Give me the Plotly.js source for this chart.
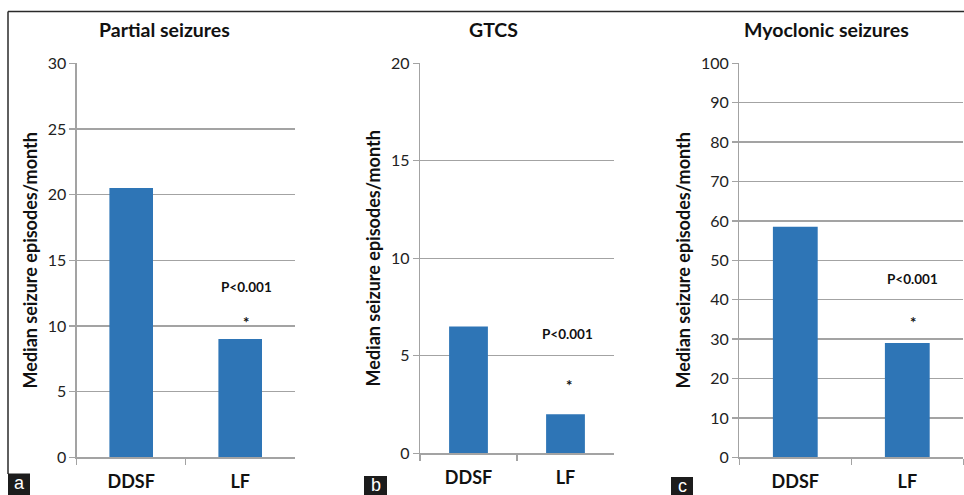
<!DOCTYPE html>
<html>
<head>
<meta charset="utf-8">
<script src="https://cdn.plot.ly/plotly-3.0.1.min.js"></script>
<style>
html,body{margin:0;padding:0;background:#fff;}
#chart{width:964px;height:495px;}
</style>
</head>
<body>
<div id="chart"></div>
<script>
// ---- data ----
const categories = ['DDSF', 'LF'];
const partialValues = [20.5, 9];
const gtcsValues = [6.5, 2];
const myoclonicValues = [58.5, 29];
const panelTitles = ['Partial seizures', 'GTCS', 'Myoclonic seizures'];
const panelLetters = ['a', 'b', 'c'];
const yAxisTitle = 'Median seizure episodes/month';
const pText = 'P&lt;0.001';
const yRanges = [[0, 30], [0, 20], [0, 100]];
const yDticks = [5, 5, 10];

// ---- layout helpers ----
const W = 964, H = 495;
const px = v => v / W;
const py = v => 1 - v / H;
const FONT = 'Lato, "Open Sans", Arial, sans-serif';
const gray = '#a3a3a3';
const barColor = '#2e75b6';

const panels = [
  {xd: [76.7, 294.7], yd: [63.3, 457.3]},
  {xd: [420, 614], yd: [63.3, 453.3]},
  {xd: [739.3, 963.3], yd: [63.3, 457.3]}
];

const seriesList = [partialValues, gtcsValues, myoclonicValues];
const data = seriesList.map((vals, i) => ({
  type: 'bar',
  x: categories,
  y: vals,
  xaxis: i === 0 ? 'x' : 'x' + (i + 1),
  yaxis: i === 0 ? 'y' : 'y' + (i + 1),
  marker: {color: barColor},
  hoverinfo: 'x+y',
  showlegend: false
}));

const layout = {
  width: W, height: H,
  margin: {l: 0, r: 0, t: 0, b: 0},
  paper_bgcolor: '#fff',
  plot_bgcolor: 'rgba(0,0,0,0)',
  bargap: 0.6,
  showlegend: false,
  font: {family: FONT, color: '#222'},
  annotations: [],
  shapes: []
};

panels.forEach((p, i) => {
  const sx = i === 0 ? '' : String(i + 1);
  layout['xaxis' + sx] = {
    domain: [px(p.xd[0]), px(p.xd[1])],
    anchor: 'y' + sx,
    type: 'category',
    range: [-0.5, 1.5],
    showline: true, linecolor: gray, linewidth: 1.3,
    ticks: 'outside', tickson: 'boundaries', ticklen: 6, tickcolor: gray, tickwidth: 1.3,
    showgrid: false, zeroline: false,
    ticklabelstandoff: 8,
    tickfont: {family: FONT, size: 18, color: '#111', weight: 'bold'},
    fixedrange: true
  };
  layout['yaxis' + sx] = {
    domain: [py(p.yd[1]), py(p.yd[0])],
    anchor: 'x' + sx,
    range: yRanges[i],
    dtick: yDticks[i],
    tick0: 0,
    showgrid: true, gridcolor: gray, gridwidth: 1.3,
    showline: true, linecolor: gray, linewidth: 1.3,
    ticks: 'outside', ticklen: 6, tickcolor: gray, tickwidth: 1.3,
    zeroline: false,
    tickfont: {family: FONT, size: 16, color: '#222'},
    title: {text: yAxisTitle, standoff: 5, font: {family: FONT, size: 18, color: '#111', weight: 'bold'}},
    fixedrange: true
  };
});

// panel titles
const titleX = [164, 494, 826];
panelTitles.forEach((t, i) => {
  layout.annotations.push({
    text: t, xref: 'paper', yref: 'paper', x: px(titleX[i]), y: py(30),
    xanchor: 'center', yanchor: 'middle', showarrow: false,
    font: {family: FONT, size: 19.5, color: '#111', weight: 'bold'}
  });
});

// significance labels
const pPos = [[1.06, 13, 1.05, 10.5], [1.02, 6.1, 1.04, 3.64], [1.05, 45.2, 1.05, 35]];
pPos.forEach((pp, i) => {
  const sx = i === 0 ? '' : String(i + 1);
  layout.annotations.push({
    text: pText, xref: 'x' + sx, yref: 'y' + sx, x: pp[0], y: pp[1],
    showarrow: false, font: {family: FONT, size: 13.5, color: '#111', weight: 'bold'}
  });
  layout.annotations.push({
    text: '*', xref: 'x' + sx, yref: 'y' + sx, x: pp[2], y: pp[3],
    yshift: -3,
    showarrow: false, font: {family: FONT, size: 15, color: '#111', weight: 'bold'}
  });
});

// frame
layout.shapes.push({type: 'line', xref: 'paper', yref: 'paper', x0: px(8), x1: 1, y0: py(11.5), y1: py(11.5), line: {color: '#2a2a2a', width: 1.5}});
layout.shapes.push({type: 'line', xref: 'paper', yref: 'paper', x0: px(8), x1: px(8), y0: py(11.5), y1: py(474), line: {color: '#2a2a2a', width: 1.5}});

// panel letter boxes
const boxes = [[8, 30, 473.5], [364, 387, 476], [671, 693, 477]];
boxes.forEach((b, i) => {
  layout.shapes.push({type: 'rect', xref: 'paper', yref: 'paper', x0: px(b[0]), x1: px(b[1]), y0: 0, y1: py(b[2]),
    fillcolor: '#1c1c1c', line: {width: 0}});
  layout.annotations.push({
    text: panelLetters[i], xref: 'paper', yref: 'paper', x: px((b[0] + b[1]) / 2), y: py(b[2] + 9),
    xanchor: 'center', yanchor: 'middle', showarrow: false,
    font: {family: 'Arial, "Liberation Sans", sans-serif', size: 18, color: '#fff'}
  });
});

Plotly.newPlot('chart', data, layout, {staticPlot: true, displayModeBar: false});
</script>
</body>
</html>
